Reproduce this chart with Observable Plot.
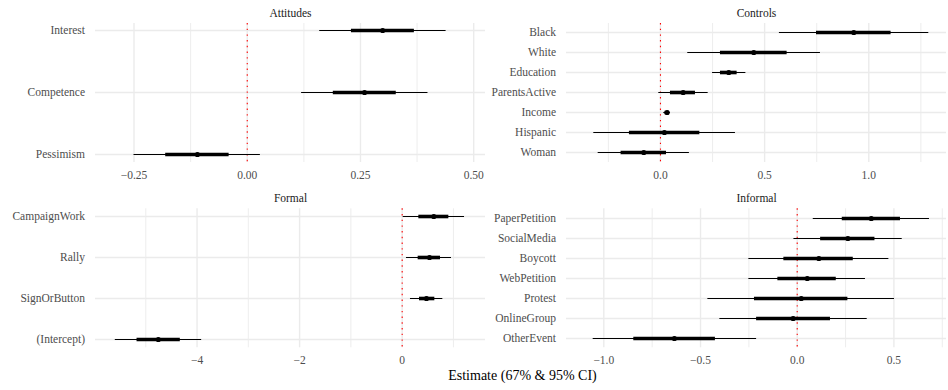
<!DOCTYPE html>
<html><head><meta charset="utf-8">
<script src="https://cdn.jsdelivr.net/npm/d3@7"></script>
<script src="https://cdn.jsdelivr.net/npm/@observablehq/plot@0.6"></script>
<style>
body{margin:0;background:#fff;}
#chart{position:relative;width:948px;height:390px;font-family:"Liberation Serif",serif;overflow:hidden;}
.panel{position:absolute;}
svg.panel, svg.panel text{font-family:"Liberation Serif",serif !important;}
#xtitle{position:absolute;left:97px;width:851px;top:368px;line-height:16px;text-align:center;font-size:14px;color:#000;}
</style></head><body><div id="chart"><div id="xtitle">Estimate (67% &amp; 95% CI)</div></div>
<script>
// ---- Attitudes ----
const attitudesTerms = ["Interest","Competence","Pessimism"];
const attitudesEst  = [0.299, 0.259, -0.11];
const attitudesLo95 = [0.16, 0.12, -0.25];
const attitudesHi95 = [0.439, 0.399, 0.029];
const attitudesLo67 = [0.23, 0.19, -0.18];
const attitudesHi67 = [0.369, 0.329, -0.04];
const attitudesTicks = [-0.25, 0, 0.25, 0.5];
const attitudesMinor = [-0.125, 0.125, 0.375];
const attitudesDomain = [-0.335, 0.526];

// ---- Controls ----
const controlsTerms = ["Black","White","Education","ParentsActive","Income","Hispanic","Woman"];
const controlsEst  = [0.928, 0.448, 0.328, 0.109, 0.032, 0.019, -0.08];
const controlsLo95 = [0.571, 0.131, 0.25, -0.008, 0.016, -0.32, -0.299];
const controlsHi95 = [1.288, 0.768, 0.41, 0.229, 0.048, 0.36, 0.139];
const controlsLo67 = [0.749, 0.288, 0.288, 0.048, 0.022, -0.149, -0.189];
const controlsHi67 = [1.107, 0.608, 0.368, 0.168, 0.042, 0.189, 0.029];
const controlsTicks = [0, 0.5, 1];
const controlsMinor = [-0.25, 0.25, 0.75, 1.25];
const controlsDomain = [-0.451, 1.373];

// ---- Formal ----
const formalTerms = ["CampaignWork","Rally","SignOrButton","(Intercept)"];
const formalEst  = [0.617, 0.533, 0.474, -4.755];
const formalLo95 = [0.02, 0.084, 0.162, -5.594];
const formalHi95 = [1.216, 0.962, 0.793, -3.91];
const formalLo67 = [0.325, 0.312, 0.338, -5.17];
const formalHi67 = [0.91, 0.747, 0.637, -4.326];
const formalTicks = [-4, -2, 0];
const formalMinor = [-5, -3, -1, 1];
const formalDomain = [-5.98, 1.625];

// ---- Informal ----
const informalTerms = ["PaperPetition","SocialMedia","Boycott","WebPetition","Protest","OnlineGroup","OtherEvent"];
const informalEst  = [0.383, 0.262, 0.112, 0.052, 0.021, -0.021, -0.635];
const informalLo95 = [0.083, -0.017, -0.25, -0.25, -0.462, -0.4, -1.055];
const informalHi95 = [0.684, 0.543, 0.474, 0.353, 0.503, 0.362, -0.21];
const informalLo67 = [0.233, 0.121, -0.069, -0.1, -0.221, -0.21, -0.845];
const informalHi67 = [0.534, 0.402, 0.29, 0.202, 0.262, 0.172, -0.423];
const informalTicks = [-1, -0.5, 0, 0.5];
const informalMinor = [-0.75, -0.25, 0.25, 0.75];
const informalDomain = [-1.193, 0.772];

function makePanel(o) {
  const rows = o.terms.map((t, i) => ({term: t, est: o.est[i], lo95: o.lo95[i], hi95: o.hi95[i], lo67: o.lo67[i], hi67: o.hi67[i]}));
  const svg = Plot.plot({
    width: o.width, height: o.height,
    marginLeft: o.ml, marginRight: o.mr, marginTop: o.mt, marginBottom: o.mb,
    style: {fontFamily: '"Liberation Serif", serif', fontSize: "11.5px", background: "transparent", overflow: "visible"},
    x: {domain: o.domain},
    y: {type: "point", domain: o.terms, range: o.yrange, padding: 0},
    marks: [
      Plot.ruleY(o.terms, {stroke: "#ebebeb", strokeWidth: 1.4}),
      Plot.ruleX(o.minor, {stroke: "#ebebeb", strokeWidth: 0.9}),
      Plot.ruleX(o.ticks, {stroke: "#ebebeb", strokeWidth: 1.4}),
      Plot.ruleX([0], {stroke: "#ff0000", strokeWidth: 1.1, strokeDasharray: "1.4,4.3"}),
      Plot.ruleY(rows, {y: "term", x1: "lo95", x2: "hi95", stroke: "#000", strokeWidth: 1.1}),
      Plot.ruleY(rows, {y: "term", x1: "lo67", x2: "hi67", stroke: "#000", strokeWidth: 3.6}),
      Plot.dot(rows, {x: "est", y: "term", r: 2.6, fill: "#000", stroke: "none"}),
      Plot.axisX({ticks: o.ticks, tickFormat: o.fmt, tickSize: 0, tickPadding: 8, fill: "#4d4d4d", fontSize: 11.5, label: null}),
      Plot.axisY({tickSize: 0, tickPadding: 10.5, fill: "#4d4d4d", fontSize: 11.5, label: null}),
      Plot.text([o.title], {frameAnchor: "top", lineAnchor: "middle", dy: -10, fill: "#1a1a1a", fontSize: 11.5})
    ]
  });
  svg.classList.add("panel");
  svg.style.left = o.left + "px";
  svg.style.top = o.top + "px";
  document.getElementById("chart").appendChild(svg);
}

makePanel({title: "Attitudes", terms: attitudesTerms, est: attitudesEst, lo95: attitudesLo95, hi95: attitudesHi95, lo67: attitudesLo67, hi67: attitudesHi67,
  ticks: attitudesTicks, minor: attitudesMinor, domain: attitudesDomain, fmt: d3.format(".2f"),
  left: 0, top: 0, width: 490, height: 195, ml: 95, mr: 5, mt: 23, mb: 33, yrange: [29.3, 155]});
makePanel({title: "Controls", terms: controlsTerms, est: controlsEst, lo95: controlsLo95, hi95: controlsHi95, lo67: controlsLo67, hi67: controlsHi67,
  ticks: controlsTicks, minor: controlsMinor, domain: controlsDomain, fmt: d3.format(".1f"),
  left: 474, top: 0, width: 474, height: 195, ml: 92, mr: 2, mt: 23, mb: 33, yrange: [29.3, 155]});
makePanel({title: "Formal", terms: formalTerms, est: formalEst, lo95: formalLo95, hi95: formalHi95, lo67: formalLo67, hi67: formalHi67,
  ticks: formalTicks, minor: formalMinor, domain: formalDomain, fmt: d3.format("d"),
  left: 0, top: 188, width: 490, height: 180, ml: 95, mr: 5, mt: 20.3, mb: 20.7, yrange: [27, 152.7]});
makePanel({title: "Informal", terms: informalTerms, est: informalEst, lo95: informalLo95, hi95: informalHi95, lo67: informalLo67, hi67: informalHi67,
  ticks: informalTicks, minor: informalMinor, domain: informalDomain, fmt: d3.format(".1f"),
  left: 474, top: 188, width: 474, height: 180, ml: 92, mr: 2, mt: 20.3, mb: 20.7, yrange: [27, 152.7]});
</script>
</body></html>
